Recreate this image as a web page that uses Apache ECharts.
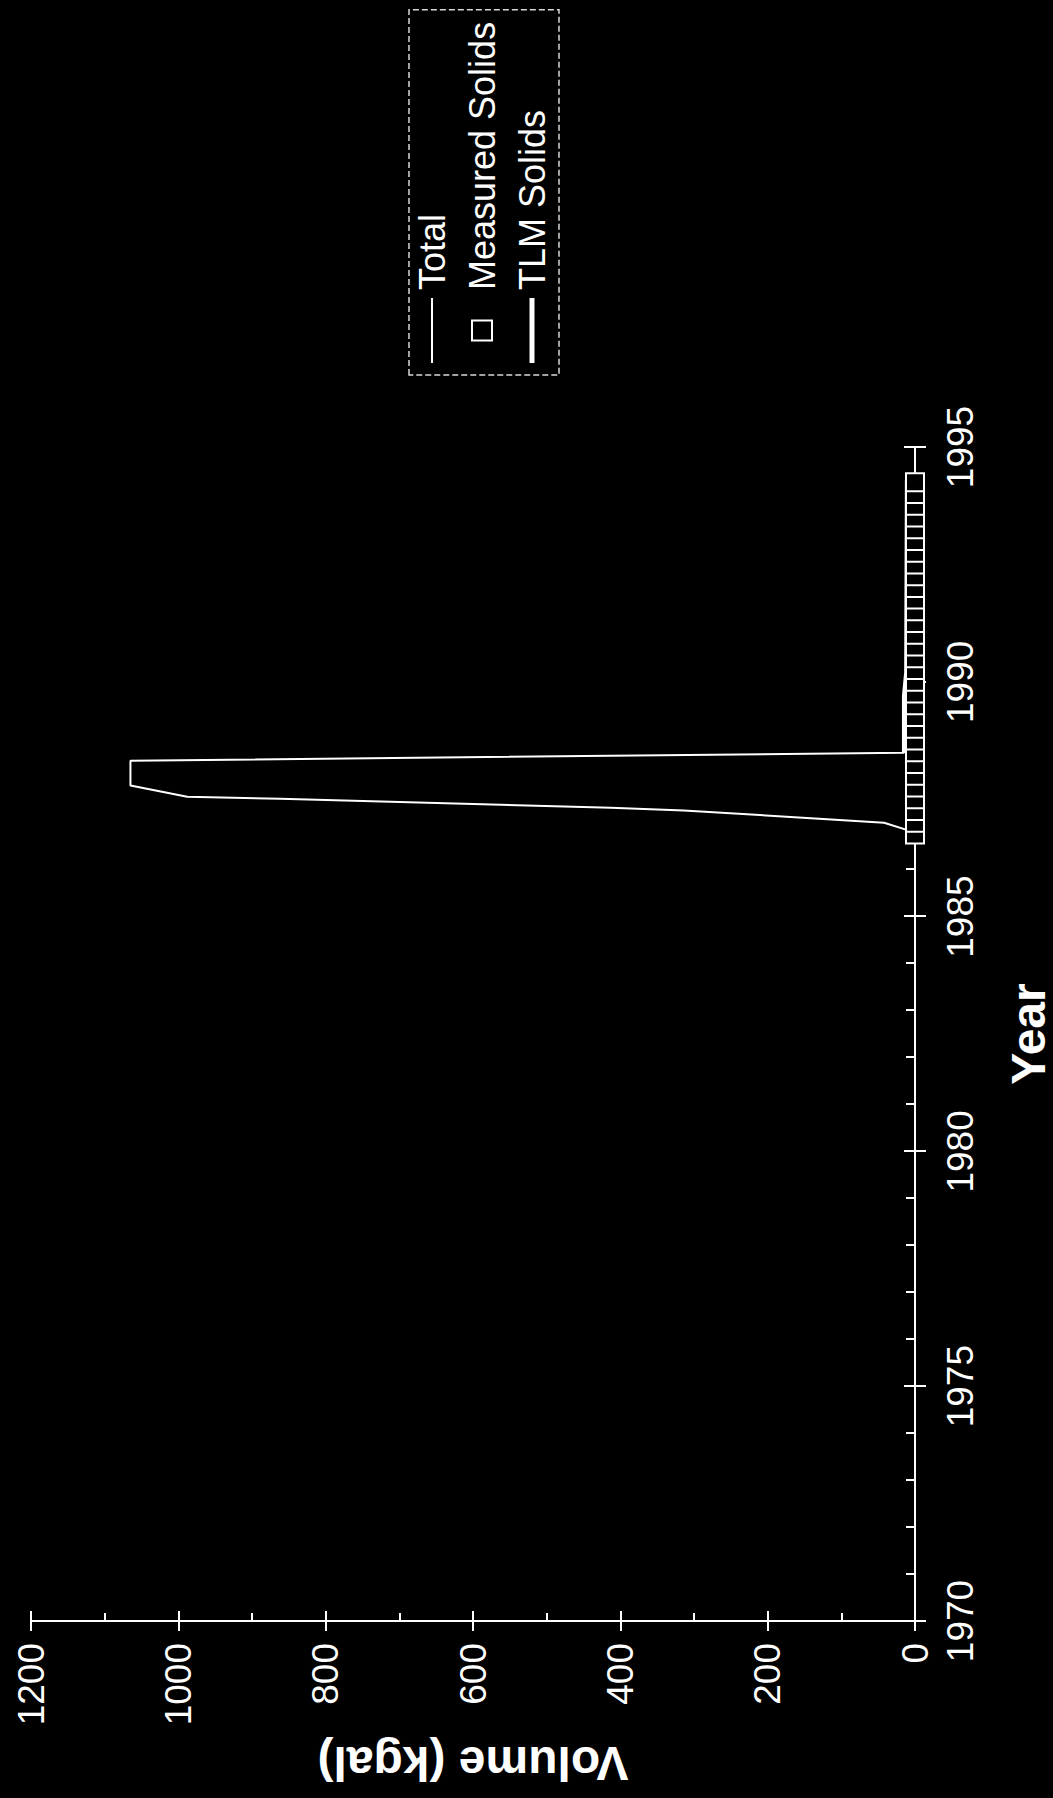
<!DOCTYPE html>
<html>
<head>
<meta charset="utf-8">
<script src="https://cdn.jsdelivr.net/npm/echarts@6/dist/echarts.min.js"></script>
<style>
html, body { margin: 0; padding: 0; background: #000; width: 1053px; height: 1798px; overflow: hidden; }
#wrap { position: absolute; left: 0; top: 0; width: 1798px; height: 1053px; transform-origin: 0 0; transform: translateY(1798px) rotate(-90deg); }
#chart { width: 1798px; height: 1053px; }
</style>
</head>
<body>
<div id="wrap"><div id="chart"></div></div>
<script>
// ---- data ----
const yearRange = [1970, 1995];
const yearStep = 5;
const volumeRange = [0, 1200];
const volumeStep = 200;

const totalYears  = [1986.83, 1987.00, 1987.26, 1987.32, 1987.51, 1987.55, 1987.79, 1988.32, 1988.49, 1989.70, 1990.20, 1994.30];
const totalValues = [8, 42, 314, 413, 862, 988, 1065, 1065, 15, 15, 12, 11];

const measuredYears  = [1986.75, 1987.00, 1987.25, 1987.50, 1987.75, 1988.00, 1988.25, 1988.50, 1988.75,
                        1989.00, 1989.25, 1989.50, 1989.75, 1990.00, 1990.25, 1990.50, 1990.75,
                        1991.00, 1991.25, 1991.50, 1991.75, 1992.00, 1992.25, 1992.50, 1992.75,
                        1993.00, 1993.25, 1993.50, 1993.75, 1994.00, 1994.25];
const measuredValues = [0, 0, 0, 0, 0, 0, 0, 0, 0,
                        0, 0, 0, 0, 0, 0, 0, 0,
                        0, 0, 0, 0, 0, 0, 0, 0,
                        0, 0, 0, 0, 0, 0];

const tlmYears  = [1988.49, 1989.70, 1990.20, 1994.30];
const tlmValues = [15, 15, 12, 11];

const seriesNames = ['Total', 'Measured Solids', 'TLM Solids'];
const axisTitles = { x: 'Year', y: 'Volume (kgal)' };

// ---- chart ----
const pair = (xs, ys) => xs.map((x, i) => [x, ys[i]]);
const WHITE = '#ffffff';
const narrow = "'Liberation Sans Narrow', 'Arial Narrow', 'Liberation Sans', Arial, sans-serif";
const sans = "'Liberation Sans', Arial, sans-serif";
const tickLine = { color: WHITE, width: 2 };
const plain = v => String(v);

const chart = echarts.init(document.getElementById('chart'), null, { renderer: 'svg', width: 1798, height: 1053 });
chart.setOption({
  backgroundColor: '#000',
  animation: false,
  grid: { left: 177, right: 447, top: 31, bottom: 138, outerBoundsMode: 'none' },
  legend: {
    orient: 'vertical',
    left: 1423, top: 409,
    padding: [5, 12, 9, 12],
    itemWidth: 65, itemHeight: 20, itemGap: 14,
    symbolKeepAspect: true,
    borderColor: '#d8d8d8', borderWidth: 1.5, borderType: 'dashed',
    textStyle: { color: WHITE, fontSize: 36, fontFamily: sans, padding: [0, 0, 0, 3] },
    data: [
      { name: seriesNames[0], icon: 'path://M0,0 L65,0 L65,2 L0,2 Z',
        itemStyle: { color: WHITE, borderWidth: 0 } },
      { name: seriesNames[1], icon: 'path://M0,0 L10,0 L10,10 L0,10 Z',
        itemStyle: { color: '#000', borderColor: WHITE, borderWidth: 2 } },
      { name: seriesNames[2], icon: 'path://M0,0 L65,0 L65,5 L0,5 Z',
        itemStyle: { color: WHITE, borderWidth: 0 } }
    ]
  },
  xAxis: [
    {
      type: 'value', min: yearRange[0], max: yearRange[1], interval: yearStep, position: 'bottom',
      axisLine: { show: true, onZero: false, lineStyle: tickLine },
      axisTick: { show: true, inside: false, length: 11, lineStyle: tickLine },
      axisLabel: { color: WHITE, fontSize: 37, fontFamily: narrow, margin: 27, formatter: plain },
      splitLine: { show: false },
      name: axisTitles.x, nameLocation: 'middle', nameGap: 89,
      nameTextStyle: { color: WHITE, fontSize: 48, fontWeight: 'bold', fontFamily: sans }
    },
    {
      type: 'value', min: yearRange[0], max: yearRange[1], interval: yearStep, position: 'bottom',
      axisLine: { show: false, onZero: false },
      axisTick: { show: true, inside: true, length: 11, lineStyle: tickLine },
      minorTick: { show: true, splitNumber: 5, length: 9, lineStyle: tickLine },
      axisLabel: { show: false },
      splitLine: { show: false }
    }
  ],
  yAxis: [
    {
      type: 'value', min: volumeRange[0], max: volumeRange[1], interval: volumeStep, position: 'left',
      axisLine: { show: true, onZero: false, lineStyle: tickLine },
      axisTick: { show: true, inside: false, length: 10, lineStyle: tickLine },
      axisLabel: { color: WHITE, fontSize: 37, fontFamily: narrow, margin: 22, formatter: plain },
      splitLine: { show: false },
      name: axisTitles.y, nameLocation: 'middle', nameRotate: 90, nameGap: 118,
      nameTextStyle: { color: WHITE, fontSize: 48, fontWeight: 'bold', fontFamily: sans }
    },
    {
      type: 'value', min: volumeRange[0], max: volumeRange[1], interval: volumeStep, position: 'left',
      axisLine: { show: false, onZero: false },
      axisTick: { show: true, inside: true, length: 10, lineStyle: tickLine },
      minorTick: { show: true, splitNumber: 2, length: 8, lineStyle: tickLine },
      axisLabel: { show: false },
      splitLine: { show: false }
    }
  ],
  series: [
    {
      name: seriesNames[2], type: 'line', xAxisIndex: 0, yAxisIndex: 0,
      data: pair(tlmYears, tlmValues), symbol: 'none', clip: false, z: 2,
      lineStyle: { color: WHITE, width: 4 }, itemStyle: { color: WHITE }
    },
    {
      name: seriesNames[0], type: 'line', xAxisIndex: 0, yAxisIndex: 0,
      data: pair(totalYears, totalValues), symbol: 'none', clip: false, z: 3,
      lineStyle: { color: WHITE, width: 2 }, itemStyle: { color: WHITE }
    },
    {
      name: seriesNames[1], type: 'scatter', xAxisIndex: 0, yAxisIndex: 0,
      data: pair(measuredYears, measuredValues), symbol: 'rect', symbolSize: 18, clip: false, z: 4,
      itemStyle: { color: '#000', borderColor: WHITE, borderWidth: 2, opacity: 1 }
    }
  ]
});
</script>
</body>
</html>
